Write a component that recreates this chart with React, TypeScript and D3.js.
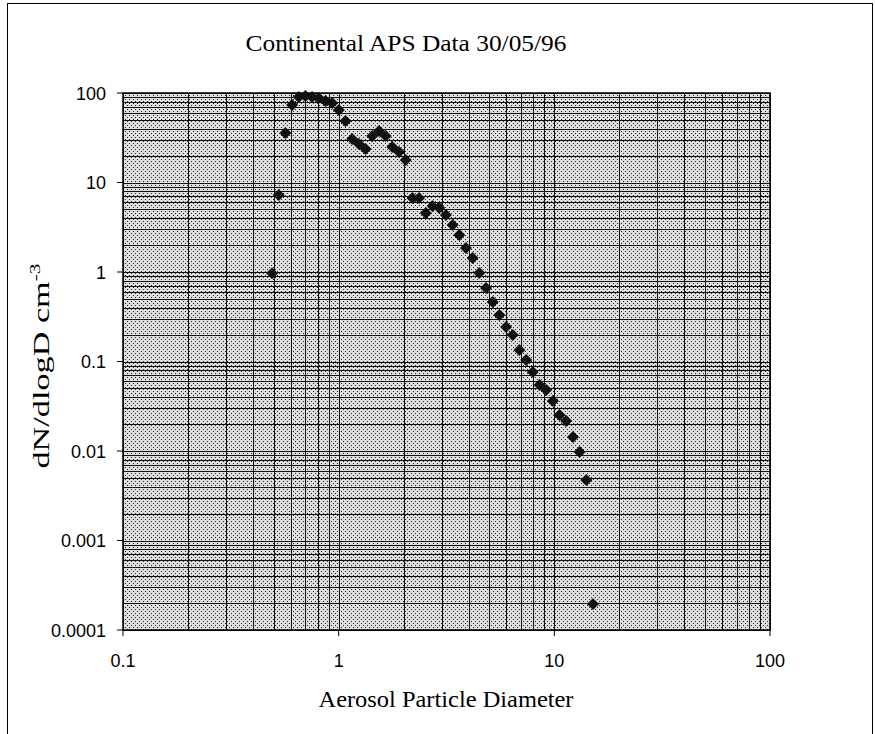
import * as d3 from "d3";

// particle diameter (um) and dN/dlogD (cm^-3)
const diameters = [
  0.491, 0.527, 0.566, 0.608, 0.653, 0.701, 0.753, 0.809, 0.869, 0.933,
  1.002, 1.076, 1.156, 1.241, 1.333, 1.432, 1.538, 1.652, 1.774, 1.905,
  2.046, 2.198, 2.36, 2.535, 2.723, 2.925, 3.141, 3.374, 3.623, 3.892,
  4.18, 4.489, 4.822, 5.178, 5.562, 5.973, 6.415, 6.89, 7.4, 7.948,
  8.536, 9.168, 9.845, 10.57, 11.36, 12.2, 13.1, 14.07, 15.11,
];
const concentrations = [
  0.97, 7.25, 35.7, 73.5, 90, 92.5, 90, 88, 81.5, 77.3,
  64.5, 48.6, 30.6, 26.9, 23.7, 33.1, 37.6, 33.1, 24.9, 21.9,
  17.8, 6.71, 6.71, 4.56, 5.46, 5.19, 4.33, 3.35, 2.59, 1.85,
  1.43, 0.975, 0.662, 0.462, 0.331, 0.243, 0.198, 0.134, 0.104, 0.0763,
  0.0546, 0.0481, 0.0362, 0.0252, 0.0216, 0.0143, 0.00975, 0.00474, 0.000195,
];

const xTicks = [0.1, 1, 10, 100];
const yTicks = [0.0001, 0.001, 0.01, 0.1, 1, 10, 100];
const xTickLabels = ["0.1", "1", "10", "100"];
const yTickLabels = ["0.0001", "0.001", "0.01", "0.1", "1", "10", "100"];

const title = "Continental APS Data 30/05/96";
const xTitle = "Aerosol Particle Diameter";

const width = 875;
const height = 734;
const plot = { left: 123, top: 93, right: 770, bottom: 630 };

const sans = "'Liberation Sans', Arial, sans-serif";
const serif = "'Liberation Serif', 'Times New Roman', serif";

// 2..9 between each pair of decades
function minorValues(decades: number[]) {
  const out: number[] = [];
  for (let i = 0; i < decades.length - 1; i++) {
    for (let m = 2; m <= 9; m++) out.push(decades[i] * m);
  }
  return out;
}

export default function App() {
  const x = d3.scaleLog().domain([0.1, 100]).range([plot.left, plot.right]);
  const y = d3.scaleLog().domain([0.0001, 100]).range([plot.bottom, plot.top]);

  const xGrid = [...minorValues(xTicks), ...xTicks];
  const yGrid = [...minorValues(yTicks), ...yTicks];

  const points = diameters.map((d, i) => ({ d, v: concentrations[i] }));
  const r = 6;
  const diamond = `M0,${-r}L${r},0L0,${r}L${-r},0Z`;

  return (
    <svg
      width={width}
      height={height}
      style={{ position: "absolute", left: 0, top: 0, background: "#fff" }}
    >
      <defs>
        <pattern id="halftone" width={4} height={4} patternUnits="userSpaceOnUse" x={plot.left} y={plot.top}>
          <rect width={4} height={4} fill="#dedede" />
          <rect x={0} y={0} width={1} height={1} fill="#222" />
          <rect x={2} y={2} width={1} height={1} fill="#222" />
        </pattern>
      </defs>

      {/* outer frame */}
      <rect x={7.5} y={3.5} width={865} height={740} fill="none" stroke="#000" strokeWidth={1} />

      <text x={406} y={51} textAnchor="middle" fontFamily={serif} fontSize={24} textLength={321} lengthAdjust="spacingAndGlyphs">
        {title}
      </text>

      <rect
        x={plot.left}
        y={plot.top}
        width={plot.right - plot.left}
        height={plot.bottom - plot.top}
        fill="url(#halftone)"
      />

      <g stroke="#111" strokeWidth={1}>
        {xGrid.map((v) => (
          <line key={`gx${v}`} x1={Math.round(x(v)) + 0.5} x2={Math.round(x(v)) + 0.5} y1={plot.top} y2={plot.bottom} />
        ))}
        {yGrid.map((v) => (
          <line key={`gy${v}`} x1={plot.left} x2={plot.right} y1={Math.round(y(v)) + 0.5} y2={Math.round(y(v)) + 0.5} />
        ))}
      </g>

      <rect
        x={plot.left}
        y={plot.top}
        width={plot.right - plot.left}
        height={plot.bottom - plot.top}
        fill="none"
        stroke="#000"
        strokeWidth={1.5}
      />

      {/* decade ticks */}
      <g stroke="#000" strokeWidth={1}>
        {xTicks.map((v) => (
          <line key={`tx${v}`} x1={x(v)} x2={x(v)} y1={plot.bottom} y2={plot.bottom + 6} />
        ))}
        {yTicks.map((v) => (
          <line key={`ty${v}`} x1={plot.left - 6} x2={plot.left} y1={y(v)} y2={y(v)} />
        ))}
      </g>

      <g fontFamily={sans} fontSize={18} fill="#000">
        {xTicks.map((v, i) => (
          <text key={`lx${v}`} x={x(v)} y={667} textAnchor="middle">
            {xTickLabels[i]}
          </text>
        ))}
        {yTicks.map((v, i) => (
          <text key={`ly${v}`} x={106} y={y(v) + 6.5} textAnchor="end">
            {yTickLabels[i]}
          </text>
        ))}
      </g>

      <g fill="#111">
        {points.map((p, i) => (
          <path key={i} d={diamond} transform={`translate(${x(p.d)},${y(p.v)})`} />
        ))}
      </g>

      <text x={446} y={707} textAnchor="middle" fontFamily={serif} fontSize={24} textLength={255} lengthAdjust="spacingAndGlyphs">
        {xTitle}
      </text>

      <text
        transform="translate(49,366) rotate(-90)"
        textAnchor="middle"
        fontFamily={serif}
        fontSize={24}
        textLength={205}
        lengthAdjust="spacingAndGlyphs"
      >
        dN/dlogD cm
        <tspan dy={-9} fontSize={15}>-3</tspan>
      </text>
    </svg>
  );
}
